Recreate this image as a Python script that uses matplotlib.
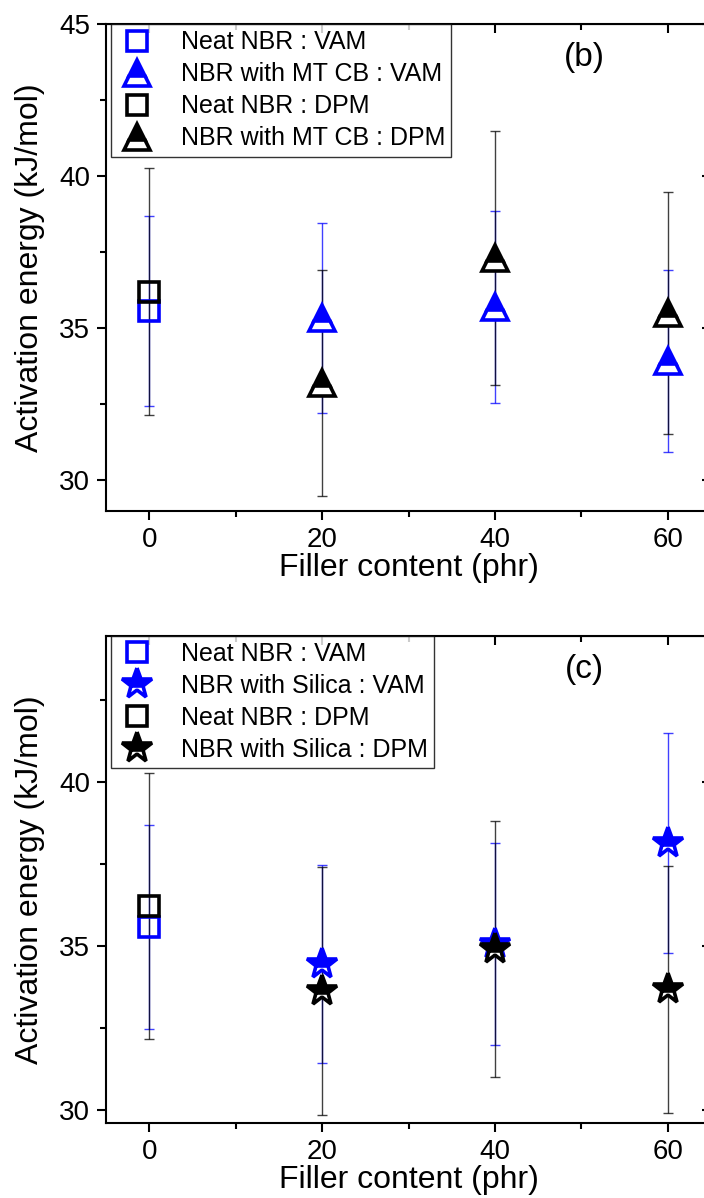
import matplotlib
matplotlib.use("Agg")
import matplotlib.pyplot as plt
from matplotlib.lines import Line2D
from matplotlib.ticker import MultipleLocator

plt.rcParams["font.family"] = ["Liberation Sans", "DejaVu Sans"]

# data (activation energy, kJ/mol, with +/- error)
neat_x       = [0]
neat_vam     = [35.57]
neat_vam_err = [3.12]
neat_dpm     = [36.20]
neat_dpm_err = [4.05]

filler = [20, 40, 60]
mtcb_vam     = [35.33, 35.69, 33.92]
mtcb_vam_err = [3.12, 3.15, 2.99]
mtcb_dpm     = [33.19, 37.30, 35.49]
mtcb_dpm_err = [3.72, 4.18, 3.98]

silica_vam     = [34.45, 35.06, 38.12]
silica_vam_err = [3.02, 3.08, 3.35]
silica_dpm     = [33.62, 34.90, 33.67]
silica_dpm_err = [3.77, 3.90, 3.77]

BLUE = "#0000ff"
W, H = 704, 1198
fig = plt.figure(figsize=(W / 100, H / 100), dpi=100)


def panel(rect, ylim, filler_vals, filler_err, marker, ms, names, tag, tag_y):
    ax = fig.add_axes(rect)
    eb = dict(fmt="none", capsize=3.5, elinewidth=1.0, capthick=1.0)
    # error bars first, blue then black
    ax.errorbar(neat_x, neat_vam, yerr=neat_vam_err, ecolor=BLUE, alpha=0.75, **eb)
    ax.errorbar(filler, filler_vals[0], yerr=filler_err[0], ecolor=BLUE, alpha=0.75, **eb)
    ax.errorbar(neat_x, neat_dpm, yerr=neat_dpm_err, ecolor="black", alpha=0.75, **eb)
    ax.errorbar(filler, filler_vals[1], yerr=filler_err[1], ecolor="black", alpha=0.75, **eb)

    sq = dict(marker="s", ms=14, mew=2.6, mfc="none", ls="none")
    fl = dict(marker=marker, ms=ms, mew=2.6, fillstyle="top", mfcalt="white", ls="none")
    ax.plot(neat_x, neat_vam, color=BLUE, **sq)
    ax.plot(filler, filler_vals[0], color=BLUE, **fl)
    ax.plot(neat_x, neat_dpm, color="black", **sq)
    ax.plot(filler, filler_vals[1], color="black", **fl)

    handles = [
        Line2D([], [], color=BLUE, **sq),
        Line2D([], [], color=BLUE, **fl),
        Line2D([], [], color="black", **sq),
        Line2D([], [], color="black", **fl),
    ]
    leg = ax.legend(handles, names, loc="upper left", bbox_to_anchor=(0.008, 1.0),
                    fontsize=18, frameon=True, fancybox=False, edgecolor="black",
                    borderaxespad=0, borderpad=0.25, labelspacing=0.32,
                    handlelength=1.6, handletextpad=0.95)
    leg.get_frame().set_linewidth(1.0)

    ax.text(50.3, tag_y, tag, fontsize=24, ha="center", va="center")

    ax.set_xlim(-5, 65)
    ax.set_ylim(*ylim)
    ax.set_xticks([0, 20, 40, 60])
    ax.xaxis.set_minor_locator(MultipleLocator(10))
    ax.yaxis.set_major_locator(MultipleLocator(5))
    ax.yaxis.set_minor_locator(MultipleLocator(2.5))
    for s in ax.spines.values():
        s.set_linewidth(1.5)
    ax.tick_params(which="both", direction="out", width=1.5, labelsize=20, pad=5)
    ax.tick_params(which="major", length=6.5)
    ax.tick_params(which="minor", length=4)
    ax.set_xlabel("Filler content (phr)", fontsize=23, labelpad=0)
    ax.set_ylabel("Activation energy (kJ/mol)", fontsize=23, labelpad=10)

    # top and right axes: ticks pointing inward, no labels
    top = ax.secondary_xaxis("top")
    top.set_xticks([0, 20, 40, 60])
    top.xaxis.set_minor_locator(MultipleLocator(10))
    top.tick_params(which="both", direction="in", width=1.5, labeltop=False)
    top.tick_params(which="major", length=6.5)
    top.tick_params(which="minor", length=4)
    right = ax.secondary_yaxis("right")
    right.yaxis.set_major_locator(MultipleLocator(5))
    right.yaxis.set_minor_locator(MultipleLocator(2.5))
    right.tick_params(which="both", direction="in", width=1.5, labelright=False)
    right.tick_params(which="major", length=6.5)
    right.tick_params(which="minor", length=4)
    return ax


names_b = ["Neat NBR : VAM", "NBR with MT CB : VAM", "Neat NBR : DPM", "NBR with MT CB : DPM"]
names_c = ["Neat NBR : VAM", "NBR with Silica : VAM", "Neat NBR : DPM", "NBR with Silica : DPM"]

ax_b = panel([106 / W, 1 - 510.7 / H, 605 / W, 486.7 / H], (29.0, 45.0),
             [mtcb_vam, mtcb_dpm], [mtcb_vam_err, mtcb_dpm_err], "^", 19, names_b, "(b)", 43.9)
ax_c = panel([106 / W, 1 - 1122.7 / H, 605 / W, 487 / H], (29.6, 44.45),
             [silica_vam, silica_dpm], [silica_vam_err, silica_dpm_err], "*", 23, names_c, "(c)", 43.41)

fig.savefig("out.png", dpi=100)
